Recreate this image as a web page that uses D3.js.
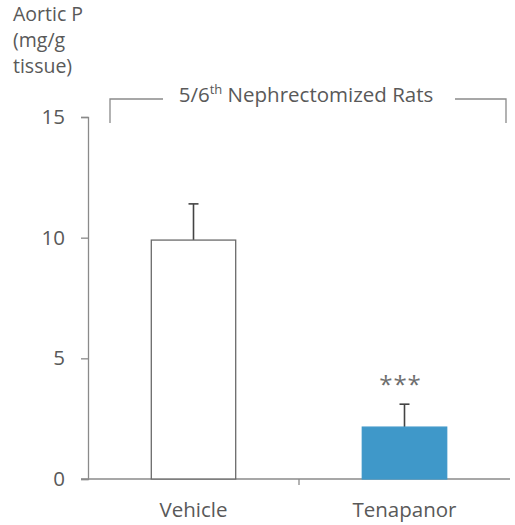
<!DOCTYPE html>
<html>
<head>
<meta charset="utf-8">
<script src="https://cdn.jsdelivr.net/npm/d3@7"></script>
<style>
  html, body { margin: 0; padding: 0; background: #fff; }
  svg text { font-family: "Open Sans", Lato, sans-serif; fill: #595959; }
</style>
</head>
<body>
<svg id="chart" width="515" height="525"></svg>
<script>
// Aortic phosphorus content, mean ± SEM
const groups = ["Vehicle", "Tenapanor"];
const means = [9.9, 2.15];
const errors = [1.5, 0.95];
const significance = ["", "***"];
const yTicks = [0, 5, 10, 15];
const yTitle = ["Aortic P", "(mg/g", "tissue)"];
const bracketLabel = { main: "5/6", sup: "th", rest: " Nephrectomized Rats" };

const fills = ["#ffffff", "#3f98c9"];
const strokes = ["#6a6a6a", "#3f98c9"];
const fontSize = 20.5;

const svg = d3.select("#chart");
const plotLeft = 88, plotRight = 510, plotTop = 117, plotBottom = 479;

const x = d3.scaleBand().domain(groups).range([plotLeft, plotRight])
  .paddingInner(0.6).paddingOuter(0.3);
const y = d3.scaleLinear().domain([0, 15]).range([plotBottom, plotTop]);

// y axis
const yAxis = svg.append("g").attr("transform", `translate(${plotLeft},0)`)
  .call(d3.axisLeft(y).tickValues(yTicks).tickSize(7).tickPadding(16));
yAxis.select(".domain").attr("stroke", "#8a8a8a").attr("stroke-width", 1.3);
yAxis.selectAll(".tick line").attr("stroke", "#8a8a8a").attr("stroke-width", 1.3);
yAxis.selectAll(".tick text").attr("font-size", fontSize).style("fill", "#595959")
  .style("font-family", "'Open Sans', Lato, sans-serif");

// x axis: baseline with a divider tick between the categories
svg.append("line").attr("x1", plotLeft - 7).attr("x2", plotRight)
  .attr("y1", plotBottom).attr("y2", plotBottom)
  .attr("stroke", "#8a8a8a").attr("stroke-width", 1.3);
const mid = (x(groups[0]) + x.bandwidth() + x(groups[1])) / 2;
svg.append("line").attr("x1", mid).attr("x2", mid)
  .attr("y1", plotBottom).attr("y2", plotBottom + 6)
  .attr("stroke", "#8a8a8a").attr("stroke-width", 1.3);

svg.selectAll("text.cat").data(groups).enter().append("text")
  .attr("class", "cat")
  .attr("x", d => x(d) + x.bandwidth() / 2)
  .attr("y", 517)
  .attr("text-anchor", "middle")
  .attr("font-size", fontSize)
  .text(d => d);

// error bars (upper only)
const data = groups.map((g, i) => ({ g, m: means[i], e: errors[i], s: significance[i], i }));
svg.selectAll("line.err").data(data).enter().append("line")
  .attr("class", "err")
  .attr("x1", d => x(d.g) + x.bandwidth() / 2)
  .attr("x2", d => x(d.g) + x.bandwidth() / 2)
  .attr("y1", d => y(d.m))
  .attr("y2", d => y(d.m + d.e))
  .attr("stroke", "#444").attr("stroke-width", 1.6);
svg.selectAll("line.cap").data(data).enter().append("line")
  .attr("class", "cap")
  .attr("x1", d => x(d.g) + x.bandwidth() / 2 - 5)
  .attr("x2", d => x(d.g) + x.bandwidth() / 2 + 5)
  .attr("y1", d => y(d.m + d.e))
  .attr("y2", d => y(d.m + d.e))
  .attr("stroke", "#444").attr("stroke-width", 1.6);

// bars
svg.selectAll("rect.bar").data(data).enter().append("rect")
  .attr("class", "bar")
  .attr("x", d => x(d.g))
  .attr("y", d => y(d.m))
  .attr("width", x.bandwidth())
  .attr("height", d => y(0) - y(d.m))
  .attr("fill", d => fills[d.i])
  .attr("stroke", d => strokes[d.i])
  .attr("stroke-width", 1.3);

// significance
svg.selectAll("text.sig").data(data.filter(d => d.s)).enter().append("text")
  .attr("class", "sig")
  .attr("x", d => x(d.g) + x.bandwidth() / 2 - 4)
  .attr("y", d => y(d.m + d.e) - 11)
  .attr("text-anchor", "middle")
  .attr("font-size", 24)
  .attr("letter-spacing", 1)
  .style("fill", "#6e6e6e")
  .text(d => d.s);

// y title, three stacked lines
svg.append("g").selectAll("text").data(yTitle).enter().append("text")
  .attr("x", 13)
  .attr("y", (d, i) => 21 + i * 26)
  .attr("font-size", 19.5)
  .text(d => d);

// group bracket
const bY = 99, bBot = 123;
svg.append("path")
  .attr("d", `M110,${bBot}V${bY}H163`)
  .attr("fill", "none").attr("stroke", "#8a8a8a").attr("stroke-width", 1.3);
svg.append("path")
  .attr("d", `M455,${bY}H506V${bBot}`)
  .attr("fill", "none").attr("stroke", "#8a8a8a").attr("stroke-width", 1.3);
const bt = svg.append("text").attr("x", 306).attr("y", 102)
  .attr("text-anchor", "middle").attr("font-size", fontSize);
bt.append("tspan").text(bracketLabel.main);
bt.append("tspan").attr("font-size", 13).attr("dy", -8).text(bracketLabel.sup);
bt.append("tspan").attr("dy", 8).text(bracketLabel.rest);
</script>
</body>
</html>
